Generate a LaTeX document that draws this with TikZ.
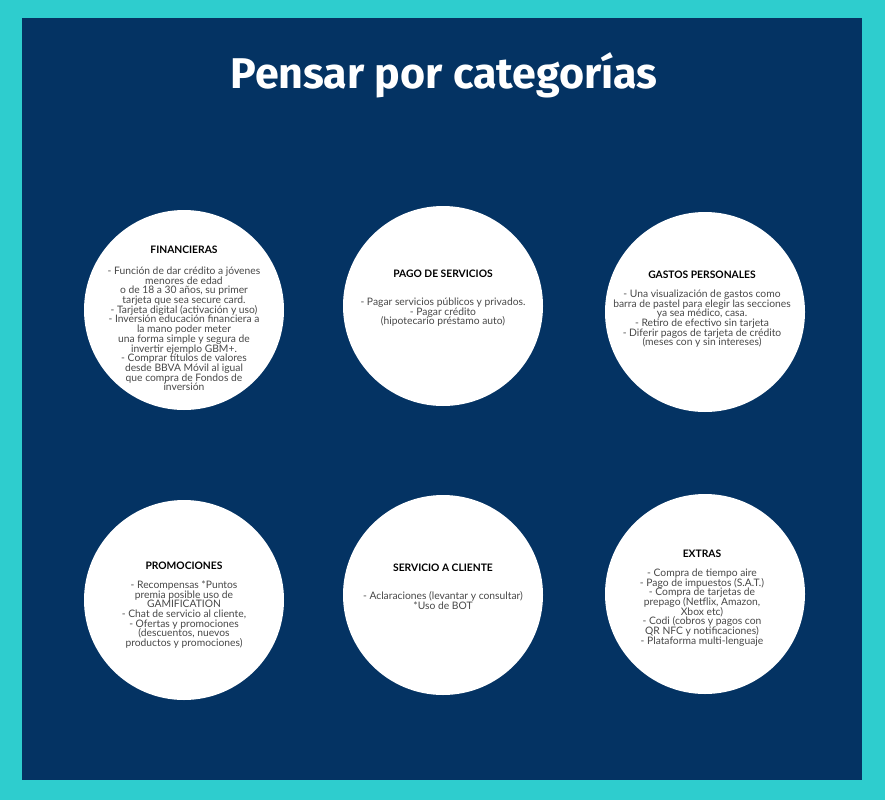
\documentclass[tikz,border=0pt]{standalone}
\usepackage{fontspec}
\setmainfont{Lato}
\newfontfamily\titlefont{Fira Sans}
\usepackage{xcolor}
\usetikzlibrary{positioning}

\definecolor{frameteal}{RGB}{46,205,206}
\definecolor{panelnavy}{RGB}{4,51,99}
\definecolor{bodygray}{RGB}{72,72,72}

% body font of the categories, tight fixed leading
\newcommand{\infofont}{\fontsize{10.3}{9.7}\selectfont\lineskiplimit=-10pt\relax}
% heading line of a category, gap before its body text as option
\newcommand{\cathead}[2][9.3pt]{{\color{black}\bfseries #2\strut}\\[#1]}

\begin{document}
\begin{tikzpicture}[x=1pt, y=-1pt,
  cat/.style={circle, fill=white, minimum size=200pt, inner sep=0pt},
  info/.style={anchor=north, align=center, inner sep=0pt, text=bodygray, font=\infofont},
  title/.style={anchor=base, text=white, inner sep=0pt, font=\titlefont\bfseries\fontsize{43}{43}\selectfont}
]
  % frame and panel
  \fill[frameteal] (0,0) rectangle (885,800);
  \fill[panelnavy] (22,18) rectangle (862,780);

  \node[title] (ttl) at (444,88) {Pensar por categorías};

  % circles
  \node[cat] (fin) at (184,310) {};
  \node[cat] (pago) at (443,306) {};
  \node[cat] (gastos) at (705,312) {};
  \node[cat] (promo) at (184,600) {};
  \node[cat] (serv) at (443,595) {};
  \node[cat] (extras) at (705,594) {};

  % texts
  \node[info] (finT) at (184,245.7) {\cathead[11.3pt]{FINANCIERAS}
    - Función de dar crédito a jóvenes\\
    menores de edad\\
    o de 18 a 30 años, su primer\\
    tarjeta que sea secure card.\\
    - Tarjeta digital (activación y uso)\\
    - Inversión educación financiera a\\
    la mano poder meter\\
    una forma simple y segura de\\
    invertir ejemplo GBM+.\\
    - Comprar títulos de valores\\
    desde BBVA Móvil al igual\\
    que compra de Fondos de\\
    inversión};
  \node[info] (pagoT) at (443,269.7) {\cathead[18.3pt]{PAGO DE SERVICIOS}
    - Pagar servicios públicos y privados.\\
    - Pagar crédito\\
    (hipotecario préstamo auto)};
  \node[info] (gastosT) at (702,270.7) {\cathead{GASTOS PERSONALES}
    - Una visualización de gastos como\\
    barra de pastel para elegir las secciones\\
    ya sea médico, casa.\\
    - Retiro de efectivo sin tarjeta\\
    - Diferir pagos de tarjeta de crédito\\
    (meses con y sin intereses)};
  \node[info] (promoT) at (184,561.7) {\cathead{PROMOCIONES}
    - Recompensas *Puntos\\
    premia posible uso de\\
    GAMIFICATION\\
    - Chat de servicio al cliente,\\
    - Ofertas y promociones\\
    (descuentos, nuevos\\
    productos y promociones)};
  \node[info] (servT) at (443,563.7) {\cathead[18.3pt]{SERVICIO A CLIENTE}
    - Aclaraciones (levantar y consultar)\\
    *Uso de BOT};
  \node[info] (extrasT) at (702,549.7) {\cathead{EXTRAS}
    - Compra de tiempo aire\\
    - Pago de impuestos (S.A.T.)\\
    - Compra de tarjetas de\\
    prepago (Netflix, Amazon,\\
    Xbox etc)\\
    - Codi (cobros y pagos con\\
    QR NFC y notificaciones)\\
    - Plataforma multi-lenguaje};
\end{tikzpicture}
\end{document}
